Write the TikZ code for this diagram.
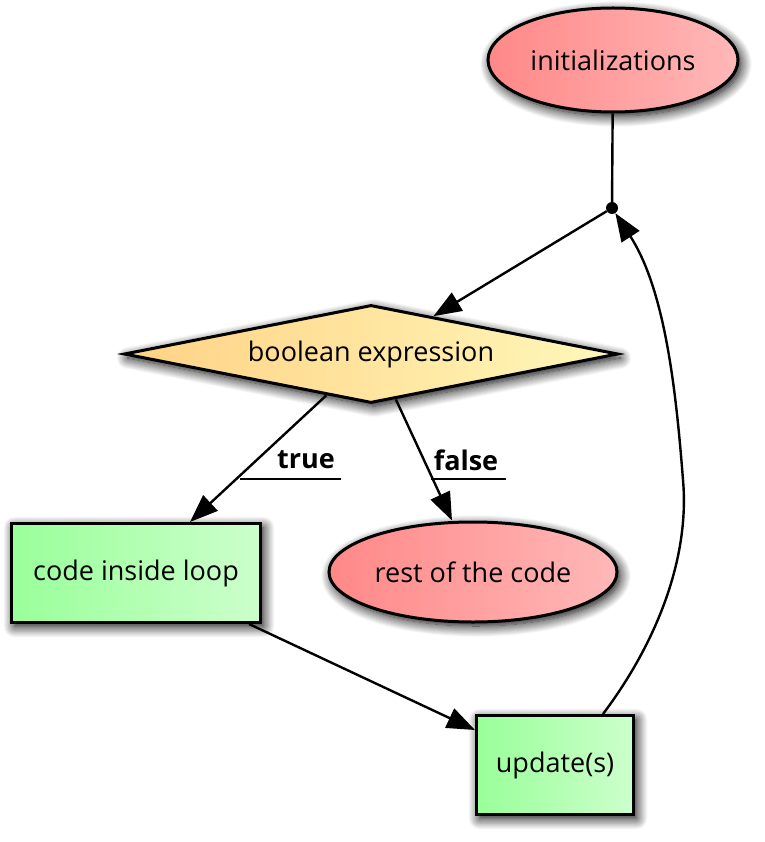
\documentclass[tikz,border=0pt]{standalone}
\usepackage{fontspec}
\setmainfont{Open Sans}
\usetikzlibrary{shapes.geometric,arrows.meta,shadows.blur,calc}
\definecolor{redL}{HTML}{FF8888}
\definecolor{redR}{HTML}{FFB8B8}
\definecolor{yelL}{HTML}{FFD285}
\definecolor{yelR}{HTML}{FFF8BA}
\definecolor{grnL}{HTML}{99FF99}
\definecolor{grnR}{HTML}{CCFFCC}
\begin{document}
\begin{tikzpicture}[x=1pt,y=-1pt,
  base/.style={draw=black, line width=3pt, inner sep=0pt, font=\fontsize{27}{32}\selectfont,
    blur shadow={shadow xshift=3pt, shadow yshift=-4pt, shadow blur radius=11pt, shadow opacity=100, shadow blur steps=12}},
  redell/.style={base, ellipse, left color=redL, right color=redR},
  grnbox/.style={base, rectangle, left color=grnL, right color=grnR},
  yeldia/.style={base, diamond, aspect=5, left color=yelL, right color=yelR},
  edge/.style={line width=2.4pt, -{Triangle[length=28pt,width=21pt]}},
  plain/.style={line width=2.4pt},
  lbl/.style={font=\fontsize{27}{32}\selectfont\bfseries, inner sep=0pt}]
\useasboundingbox (0,0) rectangle (764,842);
\node[redell, minimum width=250pt, minimum height=104pt] (init) at (613,60) {initializations};
\node[circle, fill=black, inner sep=0pt, minimum size=12pt] (dot) at (612,208) {};
\node[yeldia, minimum width=494pt, minimum height=98pt] (cond) at (371,354) {boolean expression};
\node[grnbox, minimum width=249pt, minimum height=99pt] (loop) at (136,573) {code inside loop};
\node[redell, minimum width=288pt, minimum height=100pt] (rest) at (473,572) {rest of the code};
\node[grnbox, minimum width=157pt, minimum height=99pt] (upd) at (555,765) {update(s)};
\node[lbl] (tl) at (306,460) {true};
\node[lbl] (fl) at (466,460) {false};
\coordinate (tu1) at (240,479);
\coordinate (tu2) at (341,479);
\coordinate (fu1) at (431,479);
\coordinate (fu2) at (506,479);
\draw[plain] (init) -- (dot);
\draw[edge] (dot) -- (cond);
\draw[edge] ($(cond.south)!0.18!(cond.west)$) -- ([xshift=54pt]loop.north);
\draw[edge] ($(cond.south)!0.1!(cond.east)$) -- ([xshift=-21pt]rest.north);
\draw[edge] ([xshift=-13pt]loop.south east) -- ([yshift=35pt]upd.west);
\draw[edge] ([xshift=48pt]upd.north) .. controls (655,645) and (690,560) .. (683,480)
   .. controls (676,390) and (665,290) .. (dot);
\draw[plain] (tu1) -- (tu2);
\draw[plain] (fu1) -- (fu2);
\end{tikzpicture}
\end{document}
